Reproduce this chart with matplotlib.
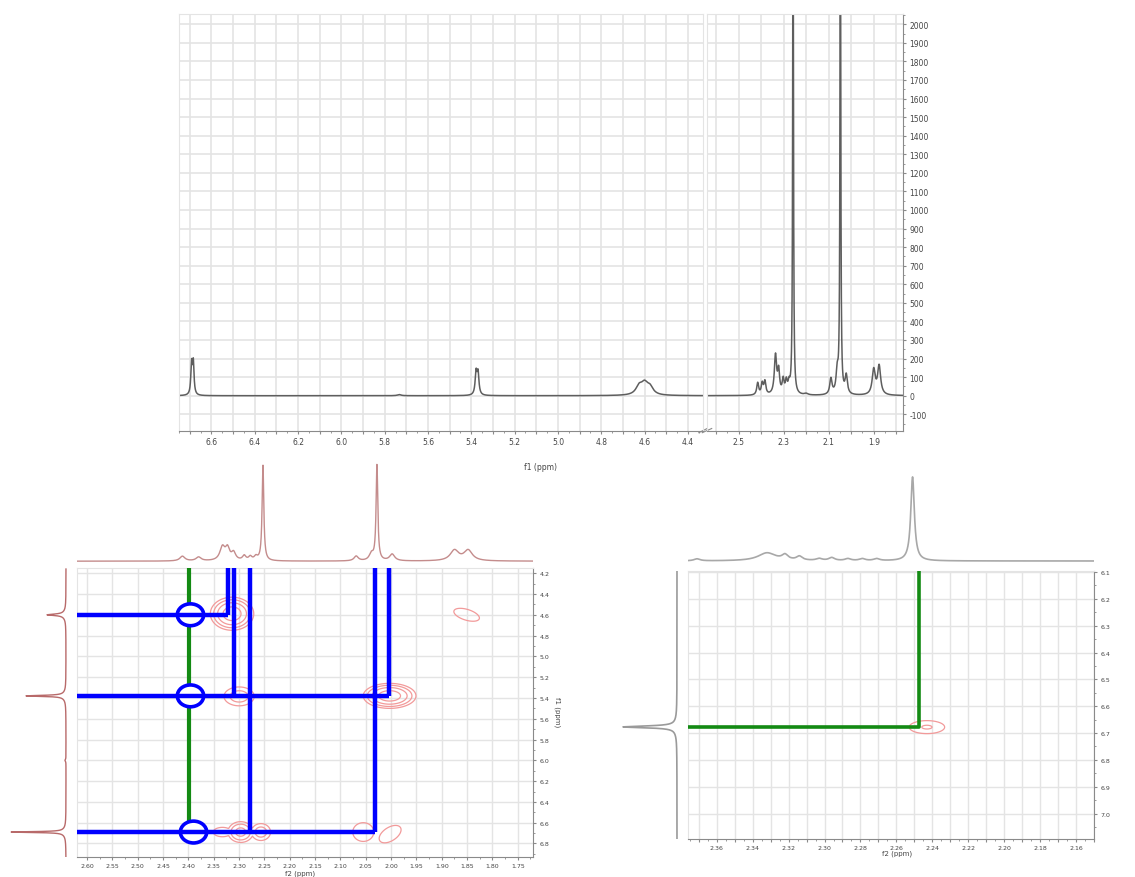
import numpy as np
import matplotlib
matplotlib.use("Agg")
import matplotlib.pyplot as plt
from matplotlib.patches import Ellipse
from matplotlib.ticker import MultipleLocator, FuncFormatter

W, H = 1135, 878

# 1H spectrum peak list: shift (ppm), intensity, half width (ppm)
h1_ppm = [6.692, 6.684, 5.733, 5.378, 5.369, 4.625, 4.600, 4.575,
          2.415, 2.395, 2.383, 2.336, 2.322, 2.302, 2.288, 2.276, 2.258,
          2.200, 2.090, 2.062, 2.048, 2.022, 1.900, 1.876]
h1_int = [165, 170, 6, 120, 115, 45, 55, 40,
          65, 60, 70, 210, 120, 75, 65, 50, 3000,
          8, 85, 115, 3000, 100, 135, 155]
h1_hw = [0.004, 0.004, 0.01, 0.005, 0.005, 0.018, 0.018, 0.018,
         0.005, 0.005, 0.005, 0.006, 0.005, 0.005, 0.005, 0.005, 0.002,
         0.01, 0.006, 0.006, 0.002, 0.006, 0.008, 0.008]
h1_left_labels = [6.6, 6.4, 6.2, 6.0, 5.8, 5.6, 5.4, 5.2, 5.0, 4.8, 4.6, 4.4]
h1_right_labels = [2.5, 2.3, 2.1, 1.9]

# COSY: f2 projection (ppm, height, half width)
cosy_top_ppm = [2.412, 2.380, 2.333, 2.323, 2.311, 2.290, 2.278, 2.267, 2.253,
                2.069, 2.039, 2.028, 1.998, 1.875, 1.848]
cosy_top_int = [5, 4, 14, 12, 8, 5, 4, 4, 100, 5, 7, 100, 7, 11, 11]
cosy_top_hw = [0.006, 0.006, 0.006, 0.005, 0.005, 0.004, 0.004, 0.004, 0.002,
               0.005, 0.005, 0.002, 0.006, 0.01, 0.01]
# COSY: f1 projection (ppm, height, half width)
cosy_side_ppm = [4.60, 4.60, 5.38, 5.38, 6.69, 6.69, 6.0]
cosy_side_int = [16, 3, 37, 3, 52, 3, 1]
cosy_side_hw = [0.008, 0.04, 0.006, 0.04, 0.005, 0.04, 0.01]

# COSY cross peaks
cosy_x = [2.314, 1.851, 2.300, 2.003, 2.333, 2.297, 2.257, 2.055, 2.002]
cosy_y = [4.59, 4.60, 5.385, 5.38, 6.69, 6.69, 6.69, 6.69, 6.71]
cosy_amp = [8, 1.5, 2.5, 8, 1.4, 4, 2.5, 1.5, 1.5]
cosy_sx = [0.021, 0.028, 0.022, 0.0255, 0.022, 0.015, 0.014, 0.023, 0.024]
cosy_sy = [0.078, 0.069, 0.067, 0.059, 0.055, 0.06, 0.06, 0.10, 0.093]
cosy_rho = [0, -0.5, 0, 0, 0, 0, 0, 0, 0.5]
contour_levels = [1, 1.8, 3.2, 5.6]

# correlation markers drawn on the COSY map
blue_h_y = [4.60, 5.38, 6.69]
blue_h_end = [2.321, 2.004, 2.032]
blue_v_x = [2.321, 2.311, 2.279, 2.032, 2.004]
blue_v_end = [4.60, 5.38, 6.69, 6.69, 5.38]
ring_x = [2.396, 2.396, 2.390]
ring_y = [4.60, 5.38, 6.69]
green_x = 2.398
green_end = 6.69

# zoomed map: projections and cross peak
zoom_top_ppm = [2.371, 2.332, 2.322, 2.314, 2.303, 2.296, 2.287, 2.279, 2.271, 2.251]
zoom_top_int = [2, 8, 5, 4, 2, 3, 2, 2, 2, 84]
zoom_top_hw = [0.002, 0.006, 0.002, 0.002, 0.002, 0.002, 0.002, 0.002, 0.002, 0.0012]
zoom_side_ppm = [6.677, 6.677]
zoom_side_int = [52, 2]
zoom_side_hw = [0.004, 0.03]
zoom_x = [2.243]
zoom_y = [6.678]
zoom_amp = [1.9]
zoom_sx = [0.0087]
zoom_sy = [0.0214]
zoom_cross = (2.2475, 6.677)

GRID = "#e4e4e4"
AXC = "#8a8a8a"
TXT = "#454545"


def box(x0, y0, x1, y1):
    return [x0 / W, 1 - y1 / H, (x1 - x0) / W, (y1 - y0) / H]


def lorentz(x, centers, heights, widths):
    y = np.zeros_like(x)
    for c, h, w in zip(centers, heights, widths):
        y += h * w ** 2 / ((x - c) ** 2 + w ** 2)
    return y


def peaks2d(X, Y, xs, ys, amps, sxs, sys_, rhos=None):
    # each cross peak keeps its own rings: take the max instead of the sum
    Z = np.zeros_like(X)
    if rhos is None:
        rhos = [0] * len(xs)
    for x0, y0, a, sx, sy, r in zip(xs, ys, amps, sxs, sys_, rhos):
        u = (X - x0) / sx
        v = (Y - y0) / sy
        Z = np.maximum(Z, a * np.exp(-(u ** 2 - 2 * r * u * v + v ** 2) / (2 * (1 - r ** 2))))
    return Z


def style_axes(ax, labelsize):
    for side in ["left", "top", "right"]:
        ax.spines[side].set_color(GRID)
    ax.spines["bottom"].set_color(AXC)
    ax.tick_params(which="both", direction="out", color=AXC, labelcolor=TXT,
                   labelsize=labelsize, pad=2)
    ax.tick_params(which="major", length=2.5, width=0.8)
    ax.tick_params(which="minor", length=1.5, width=0.6)
    ax.set_axisbelow(True)


def bare(ax):
    ax.set_axis_off()
    ax.patch.set_alpha(0)


fig = plt.figure(figsize=(W / 100, H / 100), dpi=100)

# ---- 1H spectrum, split axis ----
ax_l = fig.add_axes(box(179, 15, 703, 432))
ax_r = fig.add_axes(box(707, 15, 903, 432))
for ax, lo, hi, labels in [(ax_l, 6.75, 4.33, h1_left_labels),
                           (ax_r, 2.64, 1.77, h1_right_labels)]:
    x = np.linspace(lo, hi, 8000)
    ax.plot(x, lorentz(x, h1_ppm, h1_int, h1_hw), color="#5e5e5e", lw=1.1)
    ax.set_xlim(lo, hi)
    ax.set_ylim(-190, 2055)
    style_axes(ax, 5.5)
    ax.xaxis.set_major_locator(MultipleLocator(0.1))
    ax.xaxis.set_minor_locator(MultipleLocator(0.05))
    ax.xaxis.set_major_formatter(FuncFormatter(
        lambda v, _, labels=labels: f"{v:.1f}" if any(abs(v - l) < 1e-6 for l in labels) else ""))
    ax.yaxis.set_major_locator(MultipleLocator(100))
    ax.yaxis.set_minor_locator(MultipleLocator(50))
    ax.grid(True, which="major", color=GRID, lw=1.2)

ax_l.tick_params(axis="y", which="both", left=False, labelleft=False)
ax_r.yaxis.tick_right()
ax_r.spines["right"].set_color(AXC)
ax_r.yaxis.set_major_formatter(FuncFormatter(lambda v, _: f"{v:.0f}"))
ax_l.text(0.69, -0.075, "f1 (ppm)", transform=ax_l.transAxes, fontsize=5.5,
          color=TXT, ha="center", va="top")
# axis break marks
for ax, xpos in [(ax_l, 1.0), (ax_r, 0.0)]:
    ax.plot([xpos - 0.008 * (1 if xpos else 3), xpos + 0.008 * (1 if xpos else 3)],
            [-0.004, 0.006], transform=ax.transAxes, color=AXC, lw=0.8, clip_on=False)

# ---- COSY map ----
cx0, cx1, cy0, cy1 = 2.62, 1.72, 4.15, 6.93
ax_c = fig.add_axes(box(77, 569, 533, 858))
xg = np.linspace(cx0, cx1, 700)
yg = np.linspace(cy0, cy1, 800)
X, Y = np.meshgrid(xg, yg)
Z = peaks2d(X, Y, cosy_x, cosy_y, cosy_amp, cosy_sx, cosy_sy, cosy_rho)
ax_c.contour(X, Y, Z, levels=contour_levels, colors="#f29a9a", linewidths=0.9, zorder=2)
ax_c.set_xlim(cx0, cx1)
ax_c.set_ylim(cy1, cy0)
style_axes(ax_c, 4.5)
ax_c.spines["right"].set_color(AXC)
ax_c.yaxis.tick_right()
ax_c.xaxis.set_major_locator(MultipleLocator(0.05))
ax_c.xaxis.set_minor_locator(MultipleLocator(0.025))
ax_c.xaxis.set_major_formatter(FuncFormatter(lambda v, _: f"{v:.2f}"))
ax_c.yaxis.set_major_locator(MultipleLocator(0.2))
ax_c.yaxis.set_minor_locator(MultipleLocator(0.1))
ax_c.yaxis.set_major_formatter(FuncFormatter(lambda v, _: f"{v:.1f}"))
ax_c.grid(True, which="major", color=GRID, lw=1.0)

ax_c.plot([green_x, green_x], [cy0, green_end], color="#138a13", lw=3, zorder=3,
          solid_capstyle="butt")
for rx, ry in zip(ring_x, ring_y):
    ax_c.add_patch(Ellipse((rx, ry), 0.052, 0.21, facecolor="white", edgecolor="none", zorder=4))
for hy, hx in zip(blue_h_y, blue_h_end):
    ax_c.plot([cx0, hx], [hy, hy], color="#0000ff", lw=3.2, zorder=5, solid_capstyle="butt")
for vx, vy in zip(blue_v_x, blue_v_end):
    ax_c.plot([vx, vx], [cy0, vy], color="#0000ff", lw=3.2, zorder=5, solid_capstyle="butt")
for rx, ry in zip(ring_x, ring_y):
    ax_c.add_patch(Ellipse((rx, ry), 0.052, 0.21, facecolor="none", edgecolor="#0000ff",
                           lw=2.6, zorder=6))

fig.text(300 / W, 1 - 871 / H, "f2 (ppm)", fontsize=5, color=TXT, ha="center", va="top")
fig.text(557 / W, 1 - 712 / H, "f1 (ppm)", fontsize=5, color=TXT, ha="center",
         va="center", rotation=-90)

# COSY projections
ax_ct = fig.add_axes(box(77, 462, 533, 566))
xt = np.linspace(cx0, cx1, 4000)
ax_ct.plot(xt, lorentz(xt, cosy_top_ppm, cosy_top_int, cosy_top_hw), color="#c48c8c", lw=1)
ax_ct.set_xlim(cx0, cx1)
ax_ct.set_ylim(-4, 105)
bare(ax_ct)

ax_cs = fig.add_axes(box(0, 569, 72, 858))
ys = np.linspace(4.16, 6.93, 4000)
ax_cs.plot(lorentz(ys, cosy_side_ppm, cosy_side_int, cosy_side_hw), ys, color="#b86a6a", lw=1)
ax_cs.set_xlim(66, -6)
ax_cs.set_ylim(cy1, cy0)
bare(ax_cs)

# ---- zoomed cross peak ----
zx0, zx1, zy0, zy1 = 2.376, 2.150, 6.096, 7.095
ax_z = fig.add_axes(box(688, 572, 1094, 840))
xz = np.linspace(zx0, zx1, 500)
yz = np.linspace(zy0, zy1, 600)
XZ, YZ = np.meshgrid(xz, yz)
ZZ = peaks2d(XZ, YZ, zoom_x, zoom_y, zoom_amp, zoom_sx, zoom_sy)
ax_z.contour(XZ, YZ, ZZ, levels=contour_levels, colors="#f29a9a", linewidths=0.9, zorder=2)
ax_z.set_xlim(zx0, zx1)
ax_z.set_ylim(zy1, zy0)
style_axes(ax_z, 4.5)
ax_z.spines["right"].set_color(AXC)
ax_z.yaxis.tick_right()
ax_z.xaxis.set_major_locator(MultipleLocator(0.01))
ax_z.xaxis.set_minor_locator(MultipleLocator(0.005))
ax_z.xaxis.set_major_formatter(FuncFormatter(
    lambda v, _: f"{v:.2f}" if round(v * 100) % 2 == 0 else ""))
ax_z.yaxis.set_major_locator(MultipleLocator(0.1))
ax_z.yaxis.set_minor_locator(MultipleLocator(0.05))
ax_z.yaxis.set_major_formatter(FuncFormatter(lambda v, _: f"{v:.1f}"))
ax_z.grid(True, which="major", color=GRID, lw=1.0)
gx, gy = zoom_cross
ax_z.plot([zx0, gx, gx], [gy, gy, zy0], color="#138a13", lw=2.6, zorder=5)
fig.text(897 / W, 1 - 851 / H, "f2 (ppm)", fontsize=5, color=TXT, ha="center", va="top")

ax_zt = fig.add_axes(box(688, 470, 1094, 566))
xt = np.linspace(zx0, zx1, 4000)
ax_zt.plot(xt, lorentz(xt, zoom_top_ppm, zoom_top_int, zoom_top_hw), color="#a8a8a8", lw=1.2)
ax_zt.set_xlim(zx0, zx1)
ax_zt.set_ylim(-4, 92)
bare(ax_zt)

ax_zs = fig.add_axes(box(600, 572, 684, 840))
ys = np.linspace(zy0, zy1, 4000)
ax_zs.plot(lorentz(ys, zoom_side_ppm, zoom_side_int, zoom_side_hw), ys, color="#9a9a9a", lw=1.2)
ax_zs.set_xlim(77, -7)
ax_zs.set_ylim(zy1, zy0)
bare(ax_zs)

fig.savefig("out.png", dpi=100)
